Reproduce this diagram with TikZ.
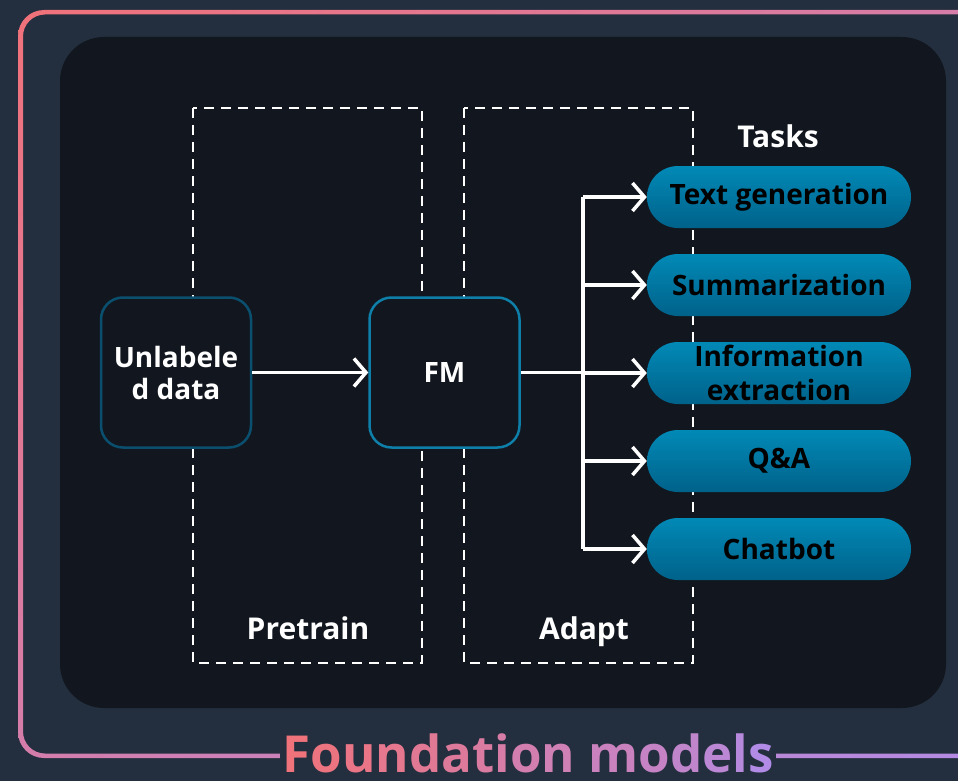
\documentclass[tikz,border=0pt]{standalone}
\usepackage{fontspec}
\setmainfont{Open Sans}
\usetikzlibrary{arrows.meta,calc,shadings}
\definecolor{bg}{HTML}{232F3E}
\definecolor{panel}{HTML}{12171F}
\definecolor{gA}{HTML}{F0727A}
\definecolor{gB}{HTML}{B28BE6}
\definecolor{ublue}{HTML}{0B4F6F}
\definecolor{fmblue}{HTML}{0E7FA8}
\definecolor{pillT}{HTML}{0189B6}
\definecolor{pillB}{HTML}{00628A}
\tikzset{
  every node/.style={font=\fontsize{28}{32}\selectfont\bfseries},
  srcbox/.style={draw=ublue, line width=2.5pt, rounded corners=22pt, fill=panel,
    minimum width=150pt, minimum height=150pt, text=white, align=center, inner sep=0pt},
  fmbox/.style={srcbox, draw=fmblue},
  phase/.style={draw=white, line width=2pt, dash pattern=on 10pt off 7pt},
  pill/.style={rounded corners=31pt, top color=pillT, bottom color=pillB, draw=none,
    minimum width=264pt, minimum height=62pt, text=black, align=center, inner sep=0pt,
    font=\fontsize{28}{34}\selectfont\bfseries},
  lbl/.style={text=white, anchor=base, font=\fontsize{30}{34}\selectfont\bfseries},
  conn/.style={draw=white, line width=3.5pt},
  arr/.style={conn, -{Straight Barb[length=12pt, width=28pt, line width=3.5pt]}},
}
\begin{document}
\begin{tikzpicture}[x=1pt,y=-1pt]
\useasboundingbox (0,0) rectangle (958,781);
\fill[bg] (0,0) rectangle (958,781);
% gradient border ring
\shade[even odd rule, upper left=gA, lower right=gB, upper right=gA!55!gB, lower left=gA!55!gB]
  [rounded corners=26pt] (18,10) rectangle (1010,758)
  [rounded corners=22pt] (23,14.5) rectangle (1005,753.5);
% inner panel
\fill[panel, rounded corners=44pt] (60,37) rectangle (946,708);
% phase boxes
\draw[phase] (193,108) rectangle (422,663);
\draw[phase] (464,108) rectangle (693,663);
\node[lbl] (pre) at (308,639) {Pretrain};
\node[lbl] (ada) at (584,639) {Adapt};
% main nodes
\node[srcbox] (src) at (176,372.5) {Unlabele\\d data};
\node[fmbox] (fm) at (444.5,372.5) {FM};
% tasks
\node[lbl] (tasks) at (778,147) {Tasks};
\node[pill] (t1) at (779,197) {Text generation};
\node[pill] (t2) at (779,285) {Summarization};
\node[pill] (t3) at (779,373) {Information\\extraction};
\node[pill] (t4) at (779,461) {Q\&A};
\node[pill] (t5) at (779,549) {Chatbot};
% connectors
\draw[arr] (src.east) -- (fm.west);
\coordinate (bx) at (583,372.5);
\draw[conn] (fm.east) -- (bx);
\draw[conn] (bx |- t1.west) -- (bx |- t5.west);
\foreach \t in {t1,t2,t3,t4,t5}{
  \draw[arr] (bx |- \t.west) -- (\t.west);
}
% title over the border
\node[fill=bg, inner xsep=3pt, inner ysep=0pt, anchor=base, font=\fontsize{51}{54}\selectfont\bfseries] (title) at (528,772)
 {\textcolor{gA}{F}\textcolor{gA!94!gB}{o}\textcolor{gA!88!gB}{u}\textcolor{gA!82!gB}{n}\textcolor{gA!76!gB}{d}\textcolor{gA!70!gB}{a}\textcolor{gA!64!gB}{t}\textcolor{gA!58!gB}{i}\textcolor{gA!52!gB}{o}\textcolor{gA!46!gB}{n} \textcolor{gA!38!gB}{m}\textcolor{gA!31!gB}{o}\textcolor{gA!24!gB}{d}\textcolor{gA!16!gB}{e}\textcolor{gA!8!gB}{l}\textcolor{gB}{s}};
\end{tikzpicture}
\end{document}
